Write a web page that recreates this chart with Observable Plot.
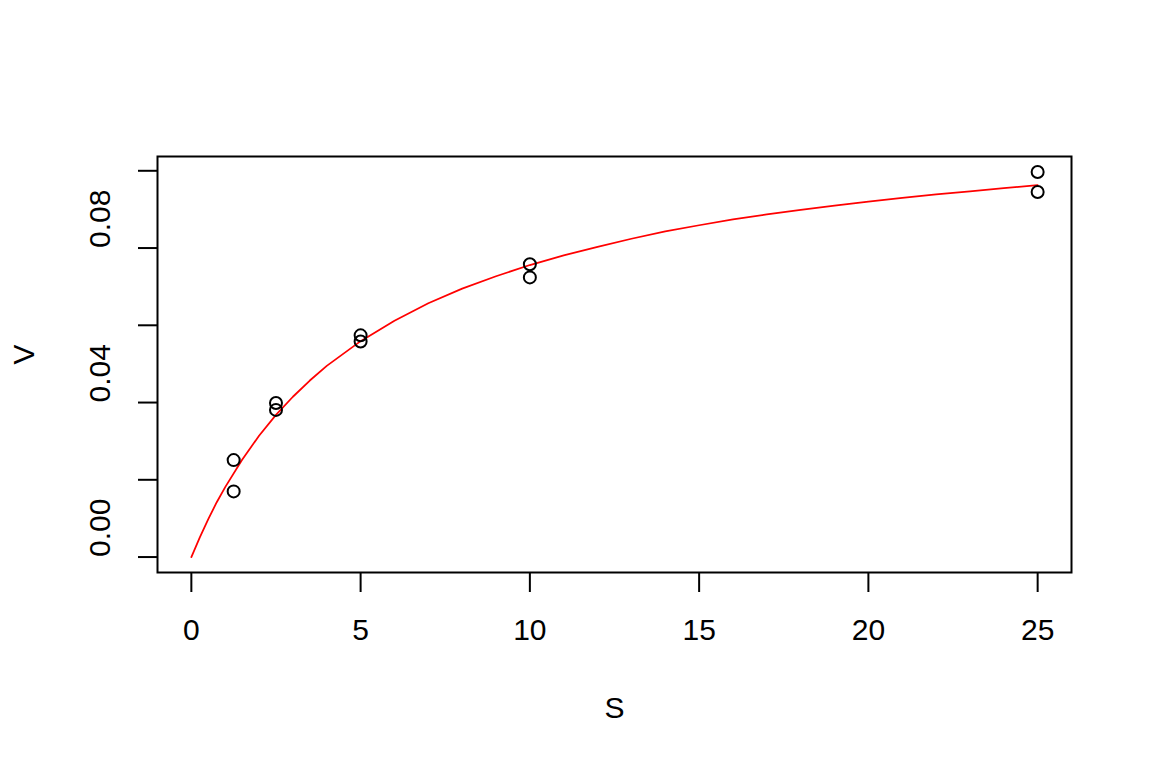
<!DOCTYPE html>
<html>
<head>
<meta charset="utf-8">
<script src="https://cdn.jsdelivr.net/npm/d3@7"></script>
<script src="https://cdn.jsdelivr.net/npm/@observablehq/plot@0.6"></script>
<style>
  html, body { margin: 0; padding: 0; background: #fff; }
  #chart svg { display: block; }
</style>
</head>
<body>
<div id="chart"></div>
<script>
// Observed data (substrate S, velocity V)
const sObs = [1.25, 1.25, 2.5, 2.5, 5, 5, 10, 10, 25, 25];
const vObs = [0.0251, 0.0170, 0.0399, 0.0381, 0.0574, 0.0558, 0.0758, 0.0724, 0.0997, 0.0945];

// Fitted curve
const sCurve = [0, 0.25, 0.5, 0.75, 1, 1.5, 2, 2.5, 3, 3.5, 4, 5, 6, 7, 8, 9, 10, 11, 12, 13, 14, 15, 16, 17, 18, 19, 20, 21, 22, 23, 24, 25];
const vCurve = [0, 0.0051, 0.0098, 0.0142, 0.0181, 0.0252, 0.0314, 0.0368, 0.0415, 0.0457, 0.0495, 0.0559, 0.0612, 0.0657, 0.0695, 0.0727, 0.0756, 0.0781, 0.0803, 0.0824, 0.0843, 0.0859, 0.0874, 0.0887, 0.0899, 0.0910, 0.0920, 0.0930, 0.0939, 0.0947, 0.0955, 0.0963];

// Axis ticks and labels
const xTicks = [0, 5, 10, 15, 20, 25];
const yTicks = [0, 0.02, 0.04, 0.06, 0.08, 0.10];
const yLabelTicks = [0, 0.04, 0.08];
const xTitle = "S";
const yTitle = "V";

const obs = sObs.map((s, i) => ({S: s, V: vObs[i]}));
const curve = sCurve.map((s, i) => ({S: s, V: vCurve[i]}));

const font = "'Liberation Sans', Arial, sans-serif";
const fs = 30;

const chart = Plot.plot({
  width: 1152,
  height: 768,
  marginLeft: 157,
  marginRight: 81,
  marginTop: 156,
  marginBottom: 196,
  style: {fontFamily: font, background: "#fff", color: "black"},
  x: {domain: [-1, 26]},
  y: {domain: [-0.004, 0.1037]},
  marks: [
    Plot.axisX({ticks: xTicks, tickSize: 20, fill: "none", label: null, strokeWidth: 2, stroke: "black"}),
    Plot.axisY({ticks: yTicks, tickSize: 19, fill: "none", label: null, strokeWidth: 2, stroke: "black"}),
    Plot.text(xTicks, {x: d => d, frameAnchor: "bottom", lineAnchor: "middle", dy: 58, text: d => String(d), fontSize: fs, fill: "black"}),
    Plot.text(yLabelTicks, {y: d => d, frameAnchor: "left", lineAnchor: "middle", dx: -57, rotate: -90, text: d => d.toFixed(2), fontSize: fs, fill: "black"}),
    Plot.text([xTitle], {frameAnchor: "bottom", lineAnchor: "middle", dy: 136, text: d => d, fontSize: fs, fill: "black"}),
    Plot.text([yTitle], {frameAnchor: "left", lineAnchor: "middle", dx: -133, rotate: -90, text: d => d, fontSize: fs, fill: "black"}),
    Plot.frame({stroke: "black", strokeWidth: 2}),
    Plot.line(curve, {x: "S", y: "V", stroke: "red", strokeWidth: 1.75}),
    Plot.dot(obs, {x: "S", y: "V", r: 6, stroke: "black", strokeWidth: 2, fill: "none"})
  ]
});
document.getElementById("chart").appendChild(chart);
</script>
</body>
</html>
